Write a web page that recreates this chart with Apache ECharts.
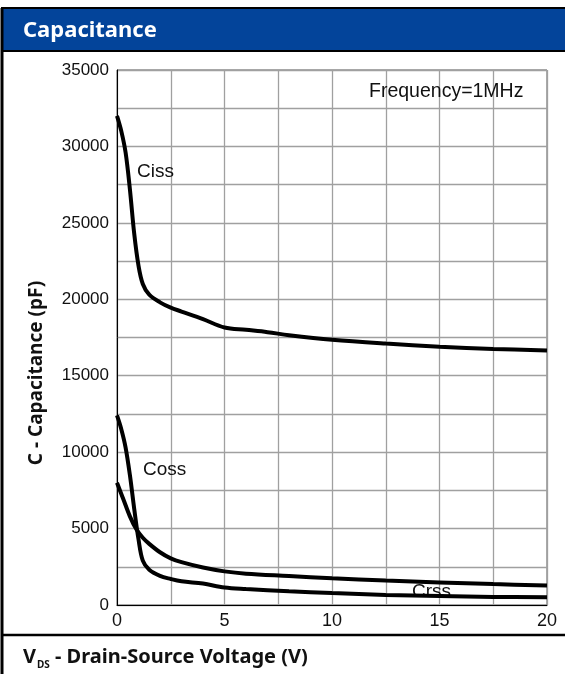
<!DOCTYPE html>
<html>
<head>
<meta charset="utf-8">
<title>Capacitance</title>
<script src="https://cdn.jsdelivr.net/npm/echarts@6/dist/echarts.min.js"></script>
<style>
  html, body { margin: 0; padding: 0; background: #fff; }
  #chart { width: 565px; height: 674px; }
</style>
</head>
<body>
<div id="chart"></div>
<script>
// values (V, pF)
const cissVoltage = [0, 0.2, 0.4, 0.6, 0.8, 1.0, 1.2, 1.5, 2, 2.5, 3, 4, 5, 6, 7, 8, 10, 12.5, 15, 17.5, 20];
const cissValues = [32000, 31000, 29600, 27200, 24300, 22200, 21000, 20300, 19800, 19450, 19200, 18700, 18150, 18000, 17850, 17650, 17350, 17100, 16900, 16750, 16650];

const cossVoltage = [0, 0.3, 0.6, 0.9, 1.2, 1.5, 2, 2.5, 3, 4, 5, 6, 8, 10, 12.5, 15, 17.5, 20];
const cossValues = [8000, 6900, 5800, 4950, 4400, 4000, 3450, 3050, 2800, 2450, 2200, 2050, 1900, 1750, 1600, 1480, 1370, 1270];

const crssVoltage = [0, 0.2, 0.4, 0.6, 0.8, 1.0, 1.2, 1.5, 2, 2.5, 3, 4, 5, 6, 8, 10, 12.5, 15, 17.5, 20];
const crssValues = [12400, 11500, 10300, 8500, 6300, 4300, 2900, 2300, 1900, 1700, 1550, 1400, 1150, 1050, 900, 780, 660, 590, 530, 500];

const xMin = 0, xMax = 20, xStep = 5;
const yMin = 0, yMax = 35000, yStep = 5000;

const pairs = (xs, ys) => xs.map((x, i) => [x, ys[i]]);

const labelFont = "Liberation Sans, Arial, sans-serif";
const boldFont = "Noto Sans, sans-serif";

const curve = (name, xs, ys) => ({
  name,
  type: "line",
  data: pairs(xs, ys),
  smooth: 0.35,
  showSymbol: false,
  z: 5,
  lineStyle: { color: "#000", width: 4 }
});

const myChart = echarts.init(document.getElementById("chart"), null, { renderer: "canvas" });

const gridLine = { show: true, lineStyle: { color: "#a0a0a0", width: 1.3 } };

const option = {
  animation: false,
  backgroundColor: "#fff",
  grid: {
    left: 117,
    right: 18,
    top: 70,
    bottom: 69,
    show: true,
    borderColor: "#555",
    borderWidth: 1
  },
  xAxis: {
    type: "value",
    min: xMin,
    max: xMax,
    interval: xStep,
    axisLine: { show: true, lineStyle: { color: "#000", width: 1 } },
    axisTick: { show: false },
    axisLabel: { color: "#111", fontSize: 18, fontFamily: labelFont, margin: 7 },
    splitLine: gridLine,
    minorTick: { show: false, splitNumber: 2 },
    minorSplitLine: gridLine
  },
  yAxis: {
    type: "value",
    min: yMin,
    max: yMax,
    interval: yStep,
    axisLine: { show: true, lineStyle: { color: "#000", width: 1 } },
    axisTick: { show: false },
    axisLabel: {
      color: "#111",
      fontSize: 17,
      fontFamily: labelFont,
      margin: 8,
      formatter: v => String(v)
    },
    splitLine: gridLine,
    minorTick: { show: false, splitNumber: 2 },
    minorSplitLine: gridLine
  },
  series: [
    curve("Ciss", cissVoltage, cissValues),
    curve("Coss", cossVoltage, cossValues),
    curve("Crss", crssVoltage, crssValues)
  ],
  graphic: [
    // frame and title bar
    { type: "rect", shape: { x: 2, y: 8, width: 570, height: 43 }, style: { fill: "#03449a", stroke: "#000", lineWidth: 2 }, z: 0 },
    { type: "line", shape: { x1: 2, y1: 8, x2: 2, y2: 674 }, style: { stroke: "#000", lineWidth: 3 }, z: 1 },
    { type: "line", shape: { x1: 2, y1: 635, x2: 565, y2: 635 }, style: { stroke: "#000", lineWidth: 2.5 }, z: 1 },
    { type: "text", x: 23, y: 31, style: { text: "Capacitance", fill: "#fff", font: "bold 22px " + boldFont, verticalAlign: "middle" }, z: 1 },
    // axis titles
    {
      type: "text", x: 37, y: 373, rotation: Math.PI / 2,
      style: { text: "C - Capacitance (pF)", fill: "#111", font: "bold 19px " + boldFont, align: "center", verticalAlign: "middle" }, z: 1
    },
    { type: "text", x: 23, y: 657, style: { text: "V", fill: "#111", font: "bold 20px " + boldFont, verticalAlign: "middle" }, z: 1 },
    { type: "text", x: 37, y: 665, style: { text: "DS", fill: "#111", font: "bold 10px " + boldFont, verticalAlign: "middle" }, z: 1 },
    { type: "text", x: 55, y: 657, style: { text: "- Drain-Source Voltage (V)", fill: "#111", font: "bold 20px " + boldFont, verticalAlign: "middle" }, z: 1 },
    // in-plot annotations
    { type: "text", x: 369, y: 92, style: { text: "Frequency=1MHz", fill: "#111", font: "19.5px " + labelFont, verticalAlign: "middle" }, z: 1 },
    { type: "text", x: 137, y: 172, style: { text: "Ciss", fill: "#111", font: "19px " + labelFont, verticalAlign: "middle" }, z: 1 },
    { type: "text", x: 143, y: 470, style: { text: "Coss", fill: "#111", font: "19px " + labelFont, verticalAlign: "middle" }, z: 1 },
    { type: "text", x: 412, y: 592, style: { text: "Crss", fill: "#111", font: "19px " + labelFont, verticalAlign: "middle" }, z: 1 }
  ]
};

myChart.setOption(option);
window.addEventListener("resize", () => myChart.resize());
</script>
</body>
</html>
